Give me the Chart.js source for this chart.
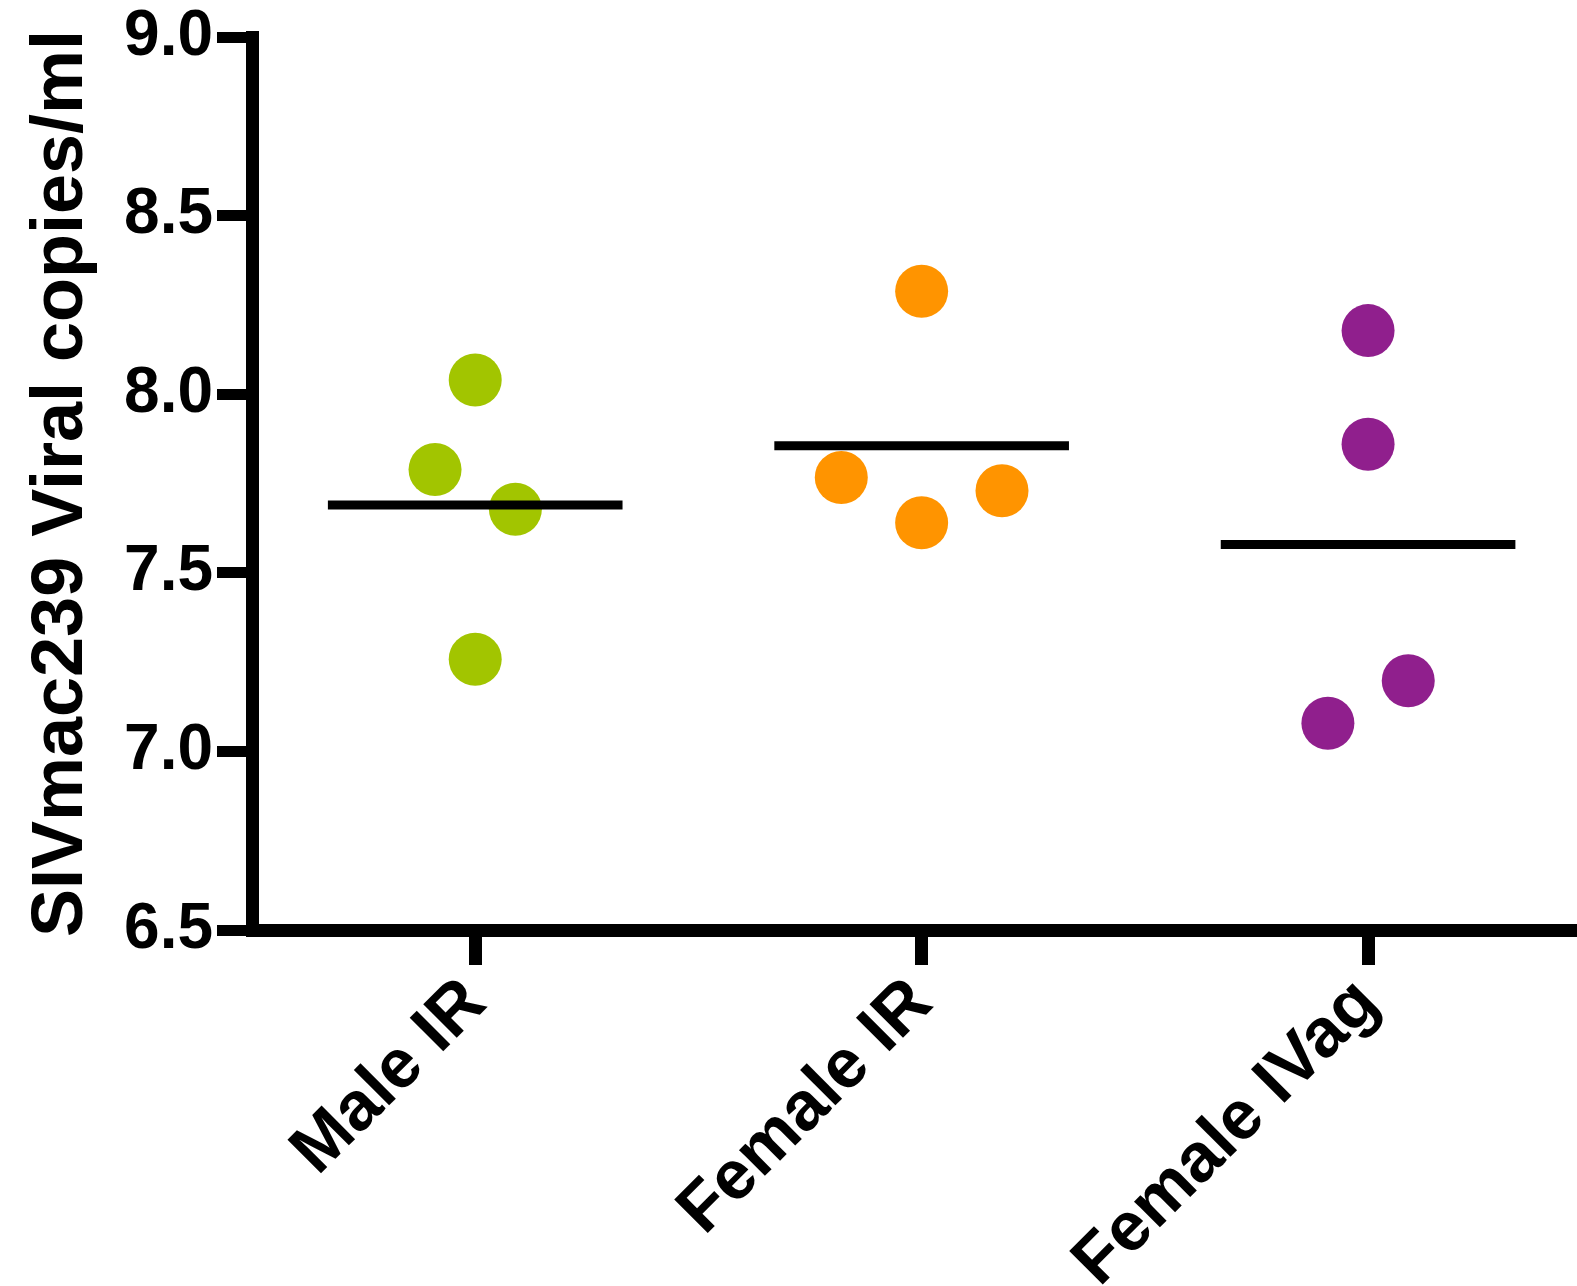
<!DOCTYPE html>
<html>
<head>
<meta charset="utf-8">
<script src="https://cdn.jsdelivr.net/npm/chart.js@4"></script>
<style>
  html, body { margin: 0; padding: 0; background: #fff; }
  canvas { display: block; }
</style>
</head>
<body>
<canvas id="viral-chart" width="1577" height="1286"></canvas>
<script>
const groups = ['Male IR', 'Female IR', 'Female IVag'];
const colors = ['#a2c500', '#ff9400', '#901f8d'];

// log10 viral copies per animal, with the horizontal jitter used in the plot
const maleIR = [8.04, 7.789, 7.678, 7.258];
const maleIRJitter = [0, -0.09, 0.09, 0];
const femaleIR = [8.288, 7.767, 7.730, 7.640];
const femaleIRJitter = [0, -0.18, 0.18, 0];
const femaleIVag = [8.178, 7.860, 7.198, 7.079];
const femaleIVagJitter = [0, 0, 0.09, -0.09];

const groupMeans = [7.69, 7.856, 7.579];
const yTicks = [6.5, 7.0, 7.5, 8.0, 8.5, 9.0];

const values = [maleIR, femaleIR, femaleIVag];
const jitters = [maleIRJitter, femaleIRJitter, femaleIVagJitter];

const datasets = [];

// Mean lines (drawn on top of the dots)
groupMeans.forEach((m, i) => {
    datasets.push({
        type: 'line',
        data: [{ x: i - 0.33, y: m }, { x: i + 0.33, y: m }],
        borderColor: '#000',
        borderWidth: 9,
        pointRadius: 0,
        borderCapStyle: 'butt',
        order: 0
    });
});

// Individual animals
values.forEach((vals, i) => {
    datasets.push({
        type: 'scatter',
        data: vals.map((v, j) => ({ x: i + jitters[i][j], y: v })),
        backgroundColor: colors[i],
        borderWidth: 0,
        pointRadius: 26.5,
        pointHoverRadius: 26.5,
        order: 1
    });
});

const ctx = document.getElementById('viral-chart').getContext('2d');

new Chart(ctx, {
    data: { datasets: datasets },
    options: {
        responsive: false,
        animation: false,
        events: [],
        layout: { autoPadding: false, padding: { top: 37, right: 0, bottom: 0, left: 0 } },
        plugins: {
            legend: { display: false },
            tooltip: { enabled: false }
        },
        scales: {
            x: {
                type: 'linear',
                min: -0.5,
                max: 2.468,
                afterBuildTicks: scale => {
                    scale.ticks = groups.map((g, i) => ({ value: i }));
                },
                afterFit: scale => {
                    scale.height = 356;
                    scale.paddingLeft = 0;
                    scale.paddingRight = 0;
                },
                border: { display: true, color: '#000', width: 13 },
                grid: {
                    drawOnChartArea: false,
                    drawTicks: true,
                    tickLength: 35,
                    tickWidth: 13,
                    tickColor: '#000'
                },
                ticks: {
                    autoSkip: false,
                    minRotation: 45,
                    maxRotation: 45,
                    padding: -2,
                    color: '#000',
                    font: { family: 'Liberation Sans', weight: 'bold', size: 69 },
                    callback: v => groups[v]
                }
            },
            y: {
                min: 6.5,
                max: 9.0,
                afterBuildTicks: scale => {
                    scale.ticks = yTicks.map(v => ({ value: v }));
                },
                afterFit: scale => {
                    scale.width = 252;
                    scale.paddingTop = 0;
                    scale.paddingBottom = 0;
                },
                border: { display: true, color: '#000', width: 13 },
                grid: {
                    drawOnChartArea: false,
                    drawTicks: true,
                    tickLength: 35,
                    tickWidth: 11,
                    tickColor: '#000'
                },
                ticks: {
                    padding: 4,
                    color: '#000',
                    font: { family: 'Liberation Sans', weight: 'bold', size: 64 },
                    callback: v => v.toFixed(1)
                },
                title: {
                    display: true,
                    text: 'SIVmac239 Viral copies/ml',
                    color: '#000',
                    padding: { top: 19, bottom: 0 },
                    font: { family: 'Liberation Sans', weight: 'bold', size: 72 }
                }
            }
        }
    }
});
</script>
</body>
</html>
